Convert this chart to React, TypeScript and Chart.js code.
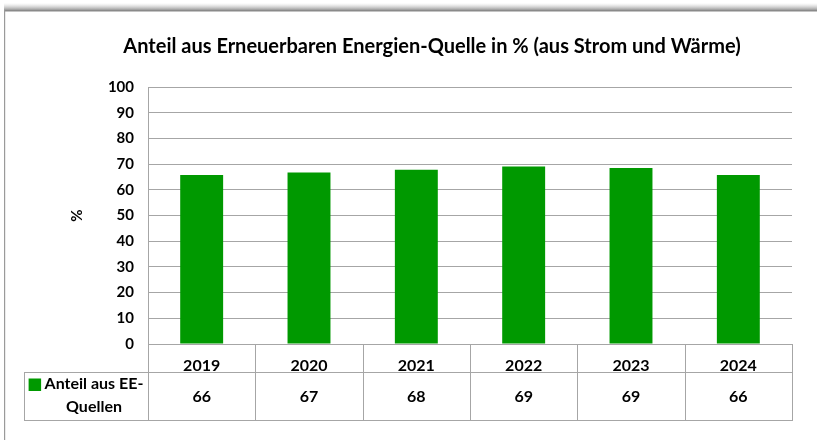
import React, { useEffect, useRef } from "react";
import { Chart, registerables } from "chart.js";

Chart.register(...registerables);

const categories = ["2019", "2020", "2021", "2022", "2023", "2024"];
const values = [65.8, 66.7, 67.8, 69.1, 68.5, 65.8];
const tableLabels = ["66", "67", "68", "69", "69", "66"];
const seriesLines = ["Anteil aus EE-", "Quellen"];
const titleText = "Anteil aus Erneuerbaren Energien-Quelle in % (aus Strom und Wärme)";
const yAxisTitle = "%";
const yMin = 0;
const yMax = 100;
const yStep = 10;

const FONT = "Lato, 'Open Sans', sans-serif";
const GREEN = "#009900";
const LINE = "#a6a6a6";

const framePlugin = {
  id: "frameAndTable",
  beforeDraw(chart: any) {
    const ctx = chart.ctx;
    ctx.save();
    ctx.fillStyle = "#ffffff";
    ctx.fillRect(0, 0, chart.width, chart.height);
    // top shadowed border
    const g = ctx.createLinearGradient(0, 3, 0, 11);
    g.addColorStop(0, "rgba(200,200,200,0)");
    g.addColorStop(1, "rgba(130,130,130,1)");
    ctx.fillStyle = g;
    ctx.fillRect(4, 3, chart.width - 4, 8);
    ctx.fillStyle = "#8a8a8a";
    ctx.fillRect(4, 10, chart.width - 4, 1.5);
    // left border
    ctx.fillStyle = "#9a9a9a";
    ctx.fillRect(4, 10, 1.2, chart.height - 10);
    ctx.restore();
  },
  afterDraw(chart: any) {
    const ctx = chart.ctx;
    const x = chart.scales.x;
    const area = chart.chartArea;
    const n = categories.length;
    const w = (area.right - area.left) / n;
    const row1Bottom = area.bottom + 27.5;
    const row2Bottom = 420;
    const legendLeft = 24;
    ctx.save();
    ctx.strokeStyle = LINE;
    ctx.lineWidth = 1;
    const line = (x1: number, y1: number, x2: number, y2: number) => {
      ctx.beginPath();
      ctx.moveTo(x1, y1);
      ctx.lineTo(x2, y2);
      ctx.stroke();
    };
    // horizontal
    line(legendLeft, Math.round(row1Bottom) + 0.5, area.right, Math.round(row1Bottom) + 0.5);
    line(legendLeft, row2Bottom + 0.5, area.right, row2Bottom + 0.5);
    // verticals
    line(legendLeft + 0.5, Math.round(row1Bottom), legendLeft + 0.5, row2Bottom + 1);
    line(Math.round(area.left) + 0.5, area.top, Math.round(area.left) + 0.5, row2Bottom + 1);
    for (let i = 1; i <= n; i++) {
      const xx = Math.round(area.left + i * w) + 0.5;
      line(xx, area.bottom, xx, row2Bottom + 1);
    }
    // values
    ctx.fillStyle = "#000";
    ctx.font = `bold 16px ${FONT}`;
    ctx.textAlign = "center";
    ctx.textBaseline = "middle";
    const valY = (row1Bottom + row2Bottom) / 2;
    for (let i = 0; i < n; i++) {
      ctx.fillText(tableLabels[i], x.getPixelForValue(i), valY + 1);
    }
    // legend cell
    const tx = 94;
    ctx.fillText(seriesLines[0], tx, 384);
    ctx.fillText(seriesLines[1], tx, 406.5);
    const w0 = ctx.measureText(seriesLines[0]).width;
    ctx.fillStyle = GREEN;
    ctx.fillRect(tx - w0 / 2 - 16, 378.5, 12.5, 12.5);
    // title
    ctx.fillStyle = "#000";
    ctx.font = `bold 20px ${FONT}`;
    ctx.fillText(titleText, 432, 47);
    ctx.restore();
  },
};

export default function App() {
  const ref = useRef<HTMLCanvasElement>(null);
  useEffect(() => {
    if (!ref.current) return;
    const chart = new Chart(ref.current, {
      type: "bar",
      data: {
        labels: categories,
        datasets: [
          {
            label: seriesLines.join(""),
            data: values,
            backgroundColor: GREEN,
            borderWidth: 0,
            barPercentage: 0.4,
            categoryPercentage: 1,
          },
        ],
      },
      plugins: [framePlugin],
      options: {
        responsive: false,
        animation: false,
        devicePixelRatio: 1,
        layout: { padding: { top: 87, right: 25, bottom: 68.5, left: 0 } },
        plugins: {
          legend: { display: false },
          title: { display: false },
          tooltip: { enabled: false },
        },
        scales: {
          x: {
            grid: { display: false },
            border: { display: false },
            ticks: {
              color: "#000",
              padding: 4,
              font: { family: FONT, size: 16, weight: "bold" },
              maxRotation: 0,
            },
            afterFit(scale: any) {
              scale.height = 27.5;
            },
          },
          y: {
            min: yMin,
            max: yMax,
            ticks: {
              stepSize: yStep,
              color: "#000",
              padding: 14,
              font: { family: FONT, size: 15, weight: "bold" },
            },
            grid: { color: LINE, drawTicks: false },
            border: { display: false },
            title: {
              display: true,
              text: yAxisTitle,
              color: "#000",
              font: { family: FONT, size: 15, weight: "bold" },
              padding: { top: 68, bottom: 0 },
            },
            afterFit(scale: any) {
              scale.width = 148;
            },
          },
        },
      },
    });
    return () => chart.destroy();
  }, []);
  return (
    <div style={{ position: "fixed", left: 0, top: 0, width: 817, height: 440, background: "#fff" }}>
      <canvas ref={ref} width={817} height={440} style={{ display: "block", width: 817, height: 440 }} />
    </div>
  );
}
